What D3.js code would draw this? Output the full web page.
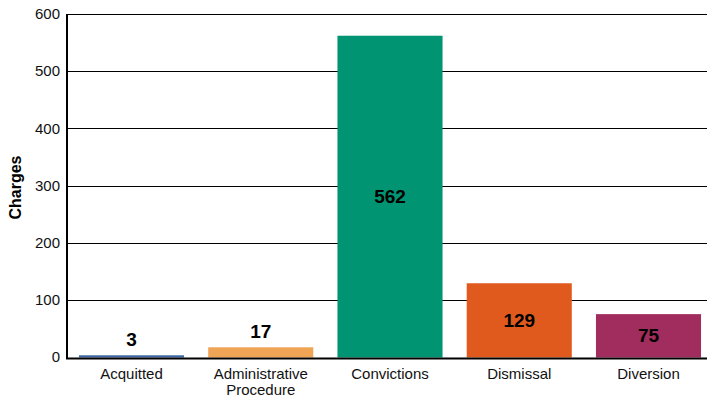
<!DOCTYPE html>
<html><head><meta charset="utf-8">
<script src="https://cdn.jsdelivr.net/npm/d3@7"></script>
<style>body{margin:0;background:#fff}svg{display:block;font-family:"Liberation Sans",Arial,sans-serif}</style>
</head><body><svg id="c" width="707" height="398"></svg>
<script>
const categories = ["Acquitted", "Administrative\nProcedure", "Convictions", "Dismissal", "Diversion"];
const values = [3, 17, 562, 129, 75];
const colors = ["#3a66a6", "#f0a456", "#009473", "#e05a1e", "#a12c5e"];
const yTicks = [0, 100, 200, 300, 400, 500, 600];
const yTitle = "Charges";

(function () {
const svg = d3.select("#c");
const mL = 67, mR = 713, mT = 14, mB = 357;
const x = d3.scaleBand().domain(categories).range([mL, mR]).paddingInner(0.187).paddingOuter(0.0925);
const y = d3.scaleLinear().domain([0, 600]).range([mB, mT]);

// gridlines
svg.append("g").selectAll("line").data(yTicks.filter(d => d > 0)).join("line")
  .attr("x1", mL).attr("x2", 707).attr("y1", d => Math.round(y(d)) + 0.5).attr("y2", d => Math.round(y(d)) + 0.5)
  .attr("stroke", "#000").attr("stroke-width", 1);

// bars
svg.append("g").selectAll("rect").data(values).join("rect")
  .attr("x", (d, i) => x(categories[i])).attr("width", x.bandwidth())
  .attr("y", d => y(d)).attr("height", d => mB - y(d) + 0.5)
  .attr("fill", (d, i) => colors[i]);

// axes lines
svg.append("line").attr("x1", mL).attr("x2", mL).attr("y1", mT).attr("y2", mB + 1)
  .attr("stroke", "#000").attr("stroke-width", 2);
svg.append("line").attr("x1", mL - 1).attr("x2", 707).attr("y1", mB + 1.5).attr("y2", mB + 1.5)
  .attr("stroke", "#000").attr("stroke-width", 2.2);

// y tick labels
svg.append("g").selectAll("text").data(yTicks).join("text")
  .attr("x", 60).attr("y", d => y(d)).attr("dy", "0.35em").attr("text-anchor", "end")
  .attr("font-size", 15).attr("fill", "#111").text(d => d);

// y title
svg.append("text").attr("transform", `translate(21,${(mT + mB) / 2 + 2}) rotate(-90)`)
  .attr("text-anchor", "middle").attr("font-size", 16).attr("font-weight", "bold").attr("fill", "#000").text(yTitle);

// x labels
const xl = svg.append("g").selectAll("text").data(categories).join("text")
  .attr("x", d => x(d) + x.bandwidth() / 2).attr("y", 379).attr("text-anchor", "middle")
  .attr("font-size", 15).attr("fill", "#111");
xl.each(function(d) {
  const t = d3.select(this);
  d.split("\n").forEach((s, i) => t.append("tspan").attr("x", x(d) + x.bandwidth() / 2).attr("dy", i ? 16 : 0).text(s));
});

// value labels
svg.append("g").selectAll("text").data(values).join("text")
  .attr("x", (d, i) => x(categories[i]) + x.bandwidth() / 2)
  .attr("y", d => (mB - y(d) > 30) ? (y(d) + mB) / 2 : y(d) - 9)
  .attr("dy", d => (mB - y(d) > 30) ? "0.35em" : 0)
  .attr("text-anchor", "middle").attr("font-size", 19).attr("font-weight", "bold").attr("fill", "#000")
  .text(d => d);
})();
</script></body></html>
